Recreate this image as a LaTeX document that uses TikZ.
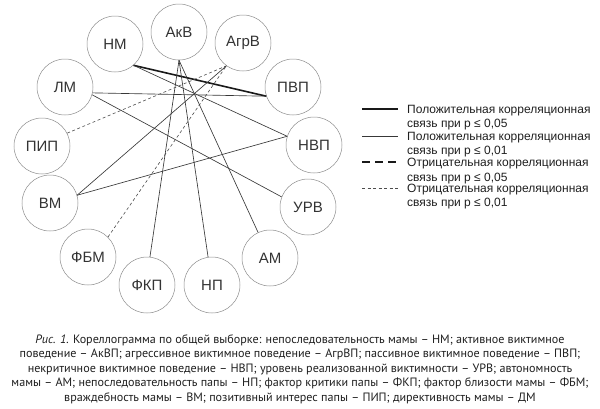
\documentclass[tikz,border=0pt]{standalone}
\usepackage{fontspec}
\setmainfont{Liberation Sans}
\newfontfamily\capfont{PT Sans}
\begin{document}
\begin{tikzpicture}[x=1pt,y=-1pt,
  vnode/.style={circle,draw=black!45,line width=0.5pt,minimum size=56pt,inner sep=0pt,font=\fontsize{15}{15}\selectfont,text=black!80},
  pos1/.style={line width=1.6pt,draw=black!90},
  pos2/.style={line width=0.65pt,draw=black!78},
  neg1/.style={line width=1.6pt,draw=black!90,dash pattern=on 8pt off 5pt},
  neg2/.style={line width=0.6pt,draw=black!70,dash pattern=on 3pt off 2.5pt},
  legtext/.style={anchor=base west,font=\fontsize{12}{13.5}\selectfont,text=black!88,inner sep=0pt},
  captext/.style={anchor=base,font=\capfont\fontsize{12.1}{14}\selectfont,text=black!88,inner sep=0pt}]
\useasboundingbox (0,0) rectangle (600,408);
% nodes
\node[vnode] (NM)   at (115,44)  {НМ};
\node[vnode] (AkV)  at (179,32)  {АкВ};
\node[vnode] (AgrV) at (243,43)  {АгрВ};
\node[vnode] (PVP)  at (293,87)  {ПВП};
\node[vnode] (NVP)  at (314,145) {НВП};
\node[vnode] (URV)  at (308,207) {УРВ};
\node[vnode] (AM)   at (270,258) {АМ};
\node[vnode] (NP)   at (212,285) {НП};
\node[vnode] (FKP)  at (147,285) {ФКП};
\node[vnode] (FBM)  at (88,257)  {ФБМ};
\node[vnode] (VM)   at (50,203)  {ВМ};
\node[vnode] (PIP)  at (42,146)  {ПИП};
\node[vnode] (LM)   at (65,87)   {ЛМ};
% connectors
\draw[pos1] (NM.-49) -- (PVP.199);
\draw[pos2] (NM.-49) -- (NVP.162);
\draw[pos2] (LM.-12) -- (PVP.199);
\draw[pos2] (LM.-16) -- (URV.159);
\draw[neg2] (PIP.27) -- (AgrV.234);
\draw[pos2] (VM.16) -- (AgrV.234);
\draw[pos2] (VM.16) -- (NVP.162);
\draw[neg2] (FBM.45) -- (AgrV.234);
\draw[pos2] (AkV.270) -- (FKP.84);
\draw[pos2] (AkV.270) -- (NP.98);
\draw[pos2] (AkV.270) -- (AM.115);
% legend
\coordinate (l1a) at (362,109); \coordinate (l1b) at (398,109);
\coordinate (l2a) at (362,136); \coordinate (l2b) at (398,136);
\coordinate (l3a) at (362,162); \coordinate (l3b) at (398,162);
\coordinate (l4a) at (362,188); \coordinate (l4b) at (398,188);
\draw[pos1] (l1a) -- (l1b);
\draw[pos2] (l2a) -- (l2b);
\draw[neg1] (l3a) -- (l3b);
\draw[neg2] (l4a) -- (l4b);
\node[legtext] (t1a) at (407,113.3) {Положительная корреляционная};
\node[legtext] (t1b) at (407,127.3) {связь при p ≤ 0,05};
\node[legtext] (t2a) at (407,140.3) {Положительная корреляционная};
\node[legtext] (t2b) at (407,154.3) {связь при p ≤ 0,01};
\node[legtext] (t3a) at (407,166.3) {Отрицательная корреляционная};
\node[legtext] (t3b) at (407,181.3) {связь при p ≤ 0,05};
\node[legtext] (t4a) at (407,192.3) {Отрицательная корреляционная};
\node[legtext] (t4b) at (407,206.3) {связь при p ≤ 0,01};
% caption
\node[captext] (c1) at (300,343) {\textit{Рис. 1.} Кореллограмма по общей выборке: непоследовательность мамы – НМ; активное виктимное};
\node[captext] (c2) at (300,357.5) {поведение – АкВП; агрессивное виктимное поведение – АгрВП; пассивное виктимное поведение – ПВП;};
\node[captext] (c3) at (300,372) {некритичное виктимное поведение – НВП; уровень реализованной виктимности – УРВ; автономность};
\node[captext] (c4) at (300,386.5) {мамы – АМ; непоследовательность папы – НП; фактор критики папы – ФКП; фактор близости мамы – ФБМ;};
\node[captext] (c5) at (300,401) {враждебность мамы – ВМ; позитивный интерес папы – ПИП; директивность мамы – ДМ};
\end{tikzpicture}
\end{document}
